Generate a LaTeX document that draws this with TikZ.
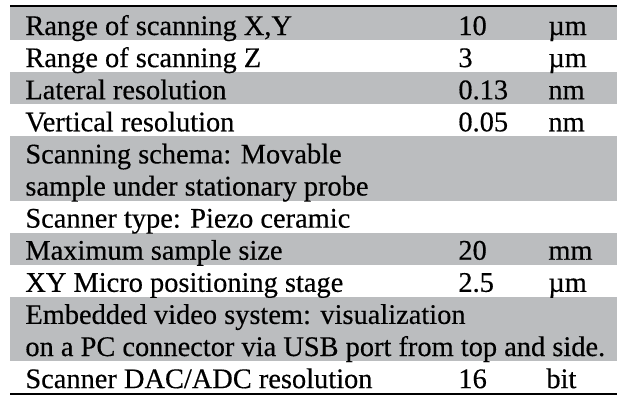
\documentclass[tikz,border=0pt]{standalone}
\usepackage{fontspec}
\setmainfont[FakeBold=0.4]{Liberation Serif}
\definecolor{rowgray}{RGB}{187,189,191}
\begin{document}
\begin{tikzpicture}[x=0.5pt,y=-0.5pt,
    cell/.style={anchor=base west,inner sep=0pt,font=\fontsize{14.2}{16}\selectfont},
    shaded/.style={fill=rowgray,draw=none},
    rule/.style={line width=1pt,black}]
    \useasboundingbox (0,0) rectangle (625,396);

    % shaded rows
    \fill[shaded] (10,7) rectangle (617,40.1);
    \fill[shaded] (10,72.2) rectangle (617,104.3);
    \fill[shaded] (10,136.4) rectangle (617,200.6);
    \fill[shaded] (10,232.7) rectangle (617,264.8);
    \fill[shaded] (10,296.9) rectangle (617,361.1);

    % rules
    \draw[rule] (10,6) -- (617,6);
    \draw[rule] (10,394) -- (617,394);

    % first column
    \node[cell] at (25,35) (xy) {Range of scanning X,Y};
    \node[cell] at (25,67.1) (z) {Range of scanning Z};
    \node[cell] at (25,99.2) (lat) {Lateral resolution};
    \node[cell] at (25,131.3) (vert) {Vertical resolution};
    \node[cell] at (25,163.4) (schema) {Scanning schema: Movable};
    \node[cell] at (25,195.5) (schemab) {sample under stationary probe};
    \node[cell] at (25,227.6) (type) {Scanner type: Piezo ceramic};
    \node[cell] at (25,259.7) (size) {Maximum sample size};
    \node[cell] at (25,291.8) (stage) {XY Micro positioning stage};
    \node[cell] at (25,323.9) (video) {Embedded video system: visualization};
    \node[cell] at (25,356) (videob) {on a PC connector via USB port from top and side.};
    \node[cell] at (25,388.1) (dac) {Scanner DAC/ADC resolution};

    % values
    \node[cell] at (458,35) (xyval) {10};
    \node[cell] at (458,67.1) (zval) {3};
    \node[cell] at (458,99.2) (latval) {0.13};
    \node[cell] at (458,131.3) (vertval) {0.05};
    \node[cell] at (458,259.7) (sizeval) {20};
    \node[cell] at (458,291.8) (stageval) {2.5};
    \node[cell] at (458,388.1) (dacval) {16};

    % units
    \node[cell] at (548,35) (xyunit) {µm};
    \node[cell] at (548,67.1) (zunit) {µm};
    \node[cell] at (548,99.2) (latunit) {nm};
    \node[cell] at (548,131.3) (vertunit) {nm};
    \node[cell] at (548,259.7) (sizeunit) {mm};
    \node[cell] at (548,291.8) (stageunit) {µm};
    \node[cell] at (546,388.1) (dacunit) {bit};
\end{tikzpicture}
\end{document}
